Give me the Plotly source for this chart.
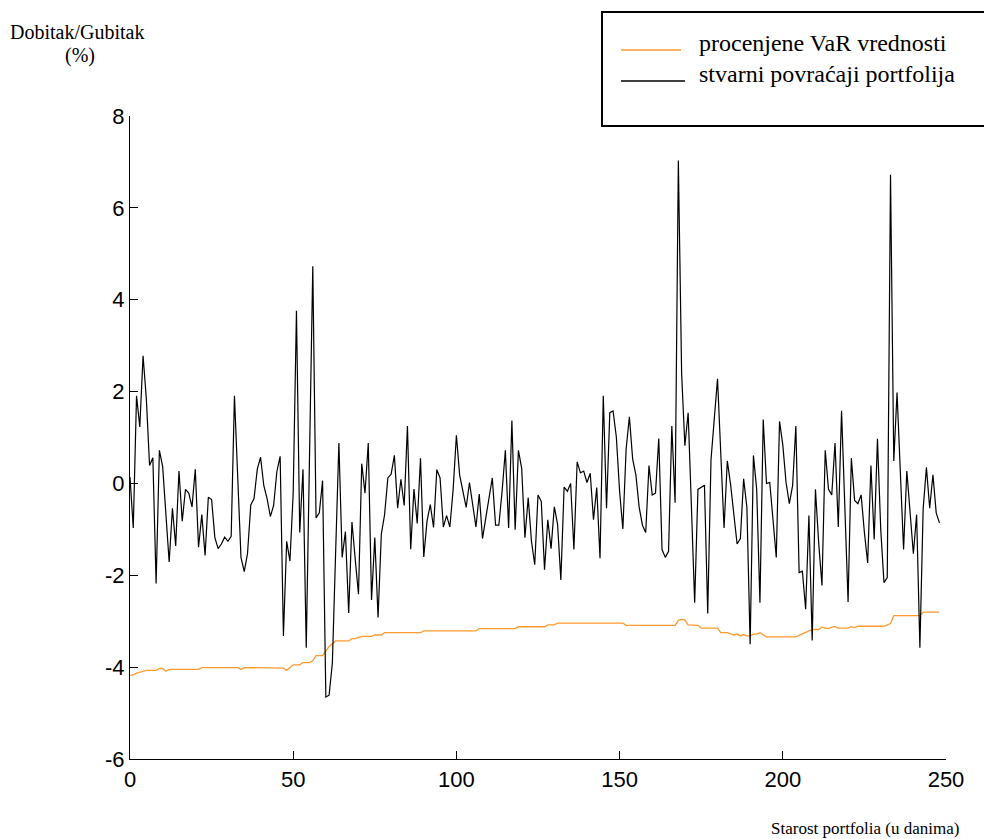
import plotly.graph_objects as go

# ---- data ----
returns = [
    0.14, -0.97, 1.91, 1.23, 2.78, 1.85, 0.39, 0.56, -2.18, 0.72,
    0.37, -0.65, -1.71, -0.54, -1.36, 0.27, -0.82, -0.13, -0.21, -0.51,
    0.31, -1.39, -0.68, -1.57, -0.30, -0.35, -1.18, -1.42, -1.32, -1.17,
    -1.26, -1.15, 1.91, 0.14, -1.61, -1.92, -1.53, -0.47, -0.33, 0.31,
    0.57, -0.05, -0.33, -0.72, -0.48, 0.26, 0.59, -3.32, -1.26, -1.69,
    -0.21, 3.76, -1.07, 0.31, -3.58, 0.60, 4.73, -0.75, -0.64, 0.06,
    -4.65, -4.61, -3.91, -1.50, 0.88, -1.61, -1.05, -2.82, -0.84, -1.65,
    -2.41, 0.43, -0.21, 0.88, -2.54, -1.18, -2.92, -1.10, -0.68, 0.12,
    0.20, 0.61, -0.54, 0.09, -0.48, 1.25, -1.43, -0.12, -0.87, 0.55,
    -1.60, -0.82, -0.46, -0.96, 0.30, 0.12, -0.95, -0.70, -0.95, -0.13,
    1.05, 0.18, -0.20, -0.52, 0.02, -0.45, -0.95, -0.23, -1.20, -0.75,
    -0.33, 0.12, -0.91, -0.91, -0.17, 0.72, -0.97, 1.37, -1.01, 0.72,
    0.33, -1.18, -0.31, -1.26, -1.77, -0.25, -0.39, -1.88, -0.79, -1.42,
    -0.51, -0.89, -2.10, -0.08, -0.17, 0.00, -1.44, 0.47, 0.23, 0.27,
    0.02, 0.22, -0.79, -0.09, -1.63, 1.91, -0.54, 1.54, 1.58, 1.01,
    -0.17, -0.99, 0.75, 1.45, 0.53, 0.18, -0.52, -0.91, -1.07, 0.39,
    -0.25, -0.21, 0.98, -1.44, -1.61, -1.48, 1.25, -0.42, 7.03, 2.40,
    0.82, 1.54, -0.50, -2.60, -0.13, -0.09, -0.04, -2.83, 0.51, 1.40,
    2.28, 0.65, -0.97, 0.49, -0.02, -0.67, -1.32, -1.20, 0.10, -0.52,
    -3.50, 0.61, -0.13, -2.60, 1.39, 0.00, 0.02, -0.79, -1.61, 1.35,
    0.84, 0.02, -0.44, -0.05, 1.25, -1.94, -1.91, -2.74, -0.70, -3.42,
    -0.13, -1.30, -2.22, 0.72, -0.13, -0.25, 0.88, -0.95, 1.58, -0.50,
    -2.58, 0.55, -0.37, -0.44, -0.25, -1.07, -1.73, 0.39, -1.22, 0.97,
    -0.99, -2.16, -2.05, 6.72, 0.49, 1.98, 0.26, -1.44, 0.27, -0.60,
    -1.53, -0.68, -3.58, -0.56, 0.35, -0.54, 0.19, -0.64, -0.86,
]
return_days = list(range(len(returns)))

var_days = [0, 1, 2, 4, 5, 8, 9, 10, 11, 12, 21, 22, 33, 34, 35, 47, 48, 49, 50, 52,
            53, 55, 56, 57, 59, 61, 63, 67, 68, 69, 70, 71, 74, 75, 77, 78, 89, 90, 106, 107,
            118, 119, 127, 128, 130, 131, 151, 152, 167, 168, 169, 170, 171, 174, 175, 180, 181, 183, 185, 186,
            187, 188, 189, 190, 191, 192, 193, 195, 204, 207, 209, 211, 212, 213, 214, 215, 216, 217, 218, 220,
            221, 222, 223, 231, 233, 234, 242, 243, 248]
var_values = [-4.18, -4.17, -4.13, -4.10, -4.07, -4.07, -4.03, -4.03, -4.09, -4.05, -4.05, -4.01, -4.01, -4.05, -4.01, -4.02, -4.07, -4.01, -3.95, -3.95,
              -3.90, -3.90, -3.86, -3.75, -3.75, -3.55, -3.43, -3.43, -3.38, -3.38, -3.35, -3.33, -3.33, -3.30, -3.30, -3.25, -3.25, -3.21, -3.21, -3.16,
              -3.16, -3.12, -3.12, -3.08, -3.08, -3.04, -3.04, -3.09, -3.09, -2.98, -2.96, -2.97, -3.08, -3.09, -3.15, -3.15, -3.25, -3.25, -3.30, -3.28,
              -3.32, -3.29, -3.32, -3.32, -3.28, -3.28, -3.25, -3.34, -3.34, -3.25, -3.18, -3.18, -3.13, -3.15, -3.16, -3.13, -3.12, -3.15, -3.15, -3.15,
              -3.12, -3.14, -3.11, -3.11, -3.05, -2.88, -2.88, -2.80, -2.80]

x_ticks = [0, 50, 100, 150, 200, 250]
y_ticks = [-6, -4, -2, 0, 2, 4, 6, 8]

legend_labels = ["procenjene VaR vrednosti", "stvarni povraćaji portfolija"]
y_title_lines = ["Dobitak/Gubitak", "(%)"]
x_title = "Starost portfolia (u danima)"

# ---- layout geometry (pixels of the 984x839 page) ----
W, H = 984, 839
L, R, T, B = 130, 946, 116, 759


def px(xp):
    return (xp - L) / (R - L)


def py(yp):
    return (B - yp) / (B - T)


ORANGE = "#FF9A2E"
SERIF = "'Liberation Serif', 'Times New Roman', serif"
SANS = "'Liberation Sans', Arial, Helvetica, sans-serif"

fig = go.Figure()
fig.add_trace(go.Scatter(x=var_days, y=var_values, mode="lines",
                         line=dict(color=ORANGE, width=1.3), name=legend_labels[0],
                         showlegend=False))
fig.add_trace(go.Scatter(x=return_days, y=returns, mode="lines",
                         line=dict(color="black", width=1.2), name=legend_labels[1],
                         showlegend=False))

axis_common = dict(showline=True, linecolor="black", linewidth=1.2, ticks="inside",
                   ticklen=8, tickwidth=1, tickcolor="black", showgrid=False,
                   zeroline=False, mirror=False,
                   tickfont=dict(family=SANS, size=22, color="black"))
fig.update_xaxes(range=[0, 250], tickvals=x_ticks, ticktext=[str(v) for v in x_ticks],
                 **axis_common)
fig.update_yaxes(range=[-6, 8], tickvals=y_ticks, ticktext=[str(v) for v in y_ticks],
                 **axis_common)

annotations = [
    dict(x=px(77), y=py(32), xref="paper", yref="paper", text=y_title_lines[0],
         showarrow=False, xanchor="center", yanchor="middle",
         font=dict(family=SERIF, size=20, color="black")),
    dict(x=px(80), y=py(55), xref="paper", yref="paper", text=y_title_lines[1],
         showarrow=False, xanchor="center", yanchor="middle",
         font=dict(family=SERIF, size=20, color="black")),
    dict(x=px(865), y=py(828), xref="paper", yref="paper", text=x_title,
         showarrow=False, xanchor="center", yanchor="middle",
         font=dict(family=SERIF, size=17, color="black")),
    dict(x=px(697), y=py(43), xref="paper", yref="paper", text=legend_labels[0],
         showarrow=False, xanchor="left", yanchor="middle",
         font=dict(family=SERIF, size=24, color="black")),
    dict(x=px(697), y=py(74), xref="paper", yref="paper", text=legend_labels[1],
         showarrow=False, xanchor="left", yanchor="middle",
         font=dict(family=SERIF, size=24, color="black")),
]

shapes = [
    dict(type="rect", xref="paper", yref="paper", x0=px(602), x1=px(992),
         y0=py(126), y1=py(12), line=dict(color="black", width=2)),
    dict(type="line", xref="paper", yref="paper", x0=px(621), x1=px(681),
         y0=py(50), y1=py(50), line=dict(color=ORANGE, width=1.5)),
    dict(type="line", xref="paper", yref="paper", x0=px(621), x1=px(685),
         y0=py(81), y1=py(81), line=dict(color="black", width=1.5)),
]

fig.update_layout(
    width=W, height=H,
    margin=dict(l=L, r=W - R, t=T, b=H - B, pad=0),
    paper_bgcolor="white", plot_bgcolor="white",
    showlegend=False,
    annotations=annotations,
    shapes=shapes,
)

fig.write_html("out.html")
